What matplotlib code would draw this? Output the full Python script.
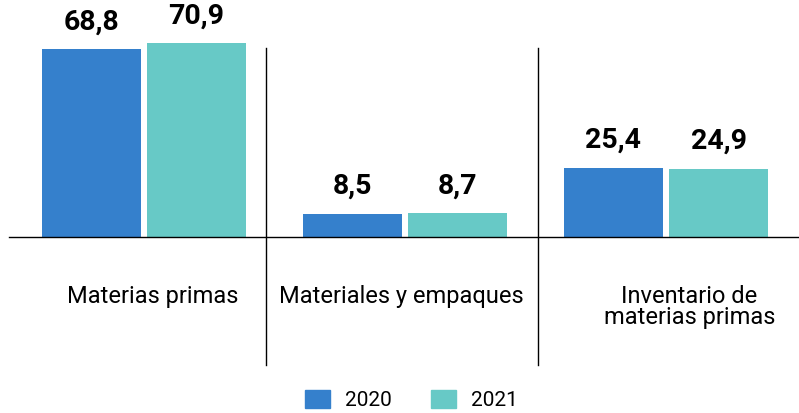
import matplotlib
matplotlib.use("Agg")
import matplotlib.pyplot as plt
from matplotlib.patches import Patch
import numpy as np

# data
categories = ["Materias primas", "Materiales y empaques", "Inventario de\nmaterias primas"]
years = ["2020", "2021"]
values_2020 = [68.8, 8.5, 25.4]
values_2021 = [70.9, 8.7, 24.9]

blue = "#3580cc"
teal = "#67c9c6"
font = ["Roboto", "DejaVu Sans"]

fig = plt.figure(figsize=(7.99, 4.13), dpi=100)
ax = fig.add_axes([0, 0, 1, 1])

# 1 x unit = 261 px, 1 y unit = 2.73 px
px_y = 2.73
x = np.arange(len(categories))
w = 99 / 261
off = 52.5 / 261
b1 = ax.bar(x - off, values_2020, w, color=blue)
b2 = ax.bar(x + off, values_2021, w, color=teal)

#value labels above each bar
for bars in (b1, b2):
    for bar in bars:
        v = bar.get_height()
        ax.annotate(f"{v:.1f}".replace(".", ","),
                    (bar.get_x() + bar.get_width() / 2, v),
                    xytext=(0, 10), textcoords="offset points",
                    ha="center", va="bottom", fontsize=20.5,
                    fontweight="bold", family=font)

#baseline and group dividers
ax.axhline(0, xmin=9 / 799, xmax=1, color="black", lw=1)
for xd in (0.467, 1.51):
    ax.plot([xd, xd], [189 / px_y, -128 / px_y], color="black", lw=1)

#category labels below the baseline
label_y = [-59 / px_y, -59 / px_y, -70 / px_y]
label_x = [0.035, 0.985, 2.09]
for cx, cy, txt in zip(label_x, label_y, categories):
    ax.text(cx, cy, txt, ha="center", va="center", fontsize=17,
            family=font, linespacing=0.93)

ax.set_xlim(-144 / 261, 655 / 261)
ax.set_ylim(-176 / px_y, 237 / px_y)
ax.axis("off")

handles = [Patch(color=blue), Patch(color=teal)]
fig.legend(handles, years, loc="center", bbox_to_anchor=(0.515, 0.032),
           ncol=2, frameon=False, prop={"family": font, "size": 15},
           handlelength=1.2, handleheight=0.95, handletextpad=0.75,
           columnspacing=1.85, borderpad=0.2)

fig.savefig("out.png", dpi=100)
